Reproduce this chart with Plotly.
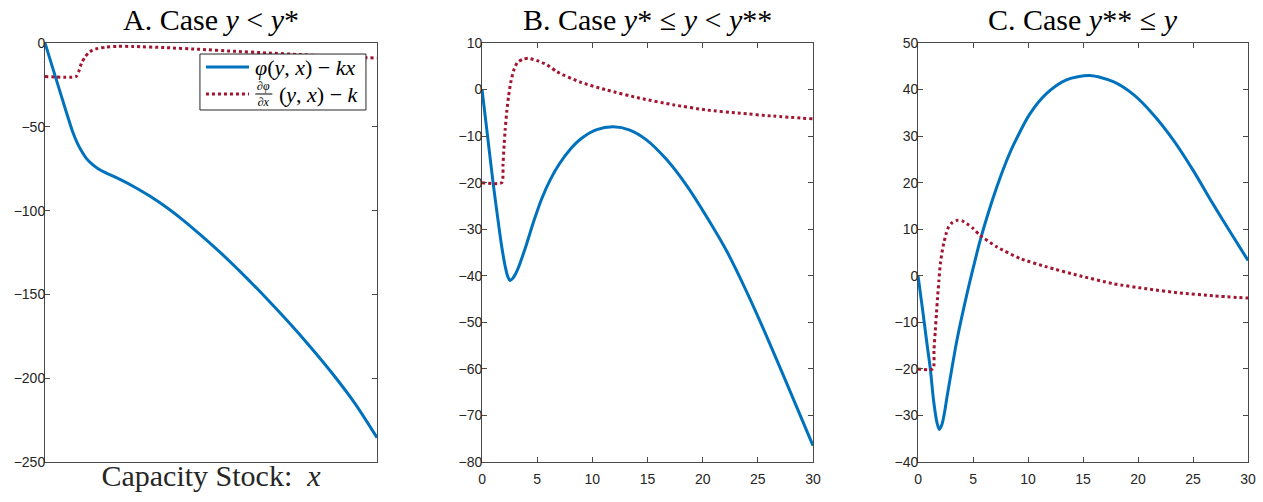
import plotly.graph_objects as go

# ---------------- data ----------------
# Panel A: case y < y*
xA_phi = [0, 1, 2, 2.5, 2.9, 3.3, 3.7, 4.2, 4.8, 5.5, 6.5, 8.0, 9.5, 11, 12.5, 14, 16, 18, 20, 22, 24, 26, 28, 30]
yA_phi = [0, -21.4, -42.8, -53, -59.5, -64.5, -68.5, -72, -75, -77.5, -80.5, -85.6, -91.5, -98.2, -105.8,
          -114.2, -126, -138.8, -152.3, -166.5, -181.5, -197.5, -215, -235.5]
xA_dphi = [0, 2.8, 3.05, 3.3, 3.6, 3.92, 4.3, 4.8, 5.5, 6.5, 8, 11, 14, 17, 20, 23, 26, 30]
yA_dphi = [-20, -20, -17, -12, -8.5, -6, -4.2, -3.2, -2.5, -2.0, -2.1, -2.8, -3.8, -4.9, -5.9, -6.9, -7.9, -9]

# Panel B: case y* <= y < y**
xB_phi = [0, 0.5, 1.0, 1.5, 1.8, 2.1, 2.35, 2.54, 2.8, 3.2, 3.9, 4.7, 5.4, 6.2, 7.0, 8.0, 9.0, 10.4, 11.9,
          13.4, 14.9, 16.75, 18.6, 20.4, 22.2, 24.0, 25.8, 27.6, 30]
yB_phi = [0, -10, -20, -29, -34, -38, -40.3, -41, -40.5, -38.8, -34.2, -28.2, -23.5, -19.3, -16, -12.8,
          -10.5, -8.6, -8.0, -8.7, -10.8, -15.1, -20.8, -27.5, -34.8, -43.5, -53, -63, -76.5]
xB_dphi = [0, 1.78, 1.9, 2.0, 2.1, 2.25, 2.4, 2.6, 2.85, 3.2, 3.7, 4.2, 5.0, 5.9, 6.8, 8.9, 11.3, 14.3,
           17.4, 20.4, 23.4, 26.4, 30]
yB_dphi = [-20, -20, -16, -12, -8.5, -4.5, -1.5, 1.5, 4, 5.8, 6.5, 6.7, 6.2, 5.3, 3.8, 1.6, -0.1, -1.85,
           -3.3, -4.4, -5.1, -5.7, -6.3]

# Panel C: case y** <= y
xC_phi = [0, 0.4, 0.82, 1.12, 1.42, 1.72, 1.94, 2.18, 2.4, 2.63, 3.0, 3.54, 4.45, 5.05, 5.65, 6.4,
          7.17, 7.9, 8.68, 10.2, 11.7, 13.5, 15.6, 17.75, 19.6, 21.4, 23.2, 25.0, 26.8, 28.6, 30]
yC_phi = [0, -7, -14.7, -20, -26.9, -31.5, -33, -31.9, -29.5, -26.1, -21, -13.8, -3.9, 2.0, 7.6, 13.6,
          19.1, 23.8, 28.1, 34.9, 39.2, 42.1, 43.0, 41.7, 38.9, 34.6, 29.2, 22.7, 15.5, 8.6, 3.3]
xC_dphi = [0, 1.36, 1.45, 1.57, 1.68, 1.78, 1.9, 2.03, 2.18, 2.33, 2.55, 2.78, 3.1, 3.54, 4.0, 4.45, 5.0,
           5.65, 7.17, 9.3, 11.7, 14.7, 17.75, 20.8, 23.8, 26.8, 30]
yC_dphi = [-20, -20, -16, -11.8, -8, -4.6, -1, 2.6, 5, 6.9, 9, 10.5, 11.4, 11.9, 11.8, 11.2, 10.2, 8.7,
           6.2, 3.7, 1.9, 0, -1.7, -2.8, -3.7, -4.3, -4.8]

titles = ["A. Case <i>y</i> &lt; <i>y</i>*",
          "B. Case <i>y</i>* ≤ <i>y</i> &lt; <i>y</i>**",
          "C. Case <i>y</i>** ≤ <i>y</i>"]
legend_phi = "<i>φ</i>(<i>y</i>, <i>x</i>) − <i>kx</i>"
legend_dphi_frac = "∂<i>φ</i><br>∂<i>x</i>"
legend_dphi_rest = "(<i>y</i>, <i>x</i>) − <i>k</i>"
xlabel_A = "Capacity Stock:  <i>x</i>"
x_ticks = [0, 5, 10, 15, 20, 25, 30]
y_ranges = [[-250, 0], [-80, 10], [-40, 50]]
y_dticks = [50, 10, 10]

BLUE = "#0072BD"
RED = "#A2142F"
AXC = "#4a4a4a"
SERIF = "Liberation Serif, Times New Roman, serif"
SANS = "Liberation Sans, Arial, Helvetica, sans-serif"

fig = go.Figure()
panels = [(xA_phi, yA_phi, xA_dphi, yA_dphi),
          (xB_phi, yB_phi, xB_dphi, yB_dphi),
          (xC_phi, yC_phi, xC_dphi, yC_dphi)]
for i, (xp, yp, xd, yd) in enumerate(panels):
    xa = "x" if i == 0 else f"x{i+1}"
    ya = "y" if i == 0 else f"y{i+1}"
    fig.add_trace(go.Scatter(x=xp, y=yp, mode="lines", xaxis=xa, yaxis=ya,
                             line=dict(color=BLUE, width=3, shape="spline", smoothing=0.8),
                             name="φ(y,x) − kx", showlegend=False))
    fig.add_trace(go.Scatter(x=xd, y=yd, mode="lines", xaxis=xa, yaxis=ya,
                             line=dict(color=RED, width=3, dash="dot", shape="spline", smoothing=0.6),
                             name="∂φ/∂x(y,x) − k", showlegend=False))

domains = [[0, 0.276], [0.3633, 0.6384], [0.7257, 1.0]]
common_ax = dict(showline=True, linecolor=AXC, linewidth=1, mirror="ticks", showgrid=False,
                 zeroline=False, ticks="inside", ticklen=5, tickcolor=AXC, tickwidth=1,
                 automargin=False,
                 tickfont=dict(family=SANS, size=14, color="#262626"))
layout = dict(
    width=1263, height=502,
    margin=dict(l=45, r=15, t=43, b=40, autoexpand=False),
    paper_bgcolor="white", plot_bgcolor="white",
    showlegend=False,
)
for i in range(3):
    xk = "xaxis" if i == 0 else f"xaxis{i+1}"
    yk = "yaxis" if i == 0 else f"yaxis{i+1}"
    xa_anchor = "y" if i == 0 else f"y{i+1}"
    ya_anchor = "x" if i == 0 else f"x{i+1}"
    xd = dict(common_ax, domain=domains[i], anchor=xa_anchor, range=[0, 30], tickvals=x_ticks,
              ticklabelstandoff=4)
    if i == 0:
        xd.update(ticks="", showticklabels=False, mirror=True,
                  title=dict(text=xlabel_A, font=dict(family=SERIF, size=30, color="#262626"), standoff=2))
    layout[xk] = xd
    layout[yk] = dict(common_ax, domain=[0, 1], anchor=ya_anchor, range=y_ranges[i],
                      dtick=y_dticks[i], tick0=0, ticklabelstandoff=-4)
fig.update_layout(**layout)

for i in range(3):
    fig.add_annotation(text=titles[i], xref="paper", yref="paper",
                       x=(domains[i][0] + domains[i][1]) / 2, y=1.0, yshift=24,
                       xanchor="center", yanchor="middle", showarrow=False,
                       font=dict(family=SERIF, size=30, color="black"))

# legend box for panel A (drawn in paper coordinates)
fig.add_shape(type="rect", xref="paper", yref="paper", x0=0.1288, x1=0.2668, y0=0.8401, y1=0.9737,
              fillcolor="white", line=dict(color="#262626", width=1), layer="above")
fig.add_shape(type="line", xref="paper", yref="paper", x0=0.1338, x1=0.1696, y0=0.9427, y1=0.9427,
              line=dict(color=BLUE, width=3), layer="above")
fig.add_shape(type="line", xref="paper", yref="paper", x0=0.1338, x1=0.1696, y0=0.8783, y1=0.8783,
              line=dict(color=RED, width=3, dash="dot"), layer="above")
fig.add_annotation(text=legend_phi, xref="paper", yref="paper", x=0.1729, y=0.9427,
                   xanchor="left", yanchor="middle", showarrow=False,
                   font=dict(family=SERIF, size=22, color="black"))
# stacked fraction  ∂φ over ∂x, with a fraction bar
fig.add_annotation(text=legend_dphi_frac, xref="paper", yref="paper", x=0.1818, y=0.8771,
                   xanchor="center", yanchor="middle", showarrow=False, borderpad=0,
                   font=dict(family=SERIF, size=12, color="black"))
fig.add_shape(type="line", xref="paper", yref="paper", x0=0.1748, x1=0.1890, y0=0.8783, y1=0.8783,
              line=dict(color="black", width=1), layer="above")
fig.add_annotation(text=legend_dphi_rest, xref="paper", yref="paper", x=0.1929, y=0.8771,
                   xanchor="left", yanchor="middle", showarrow=False,
                   font=dict(family=SERIF, size=22, color="black"))

fig.write_html("out.html", config={"displayModeBar": False},
               post_script="document.body.style.margin='0';")
